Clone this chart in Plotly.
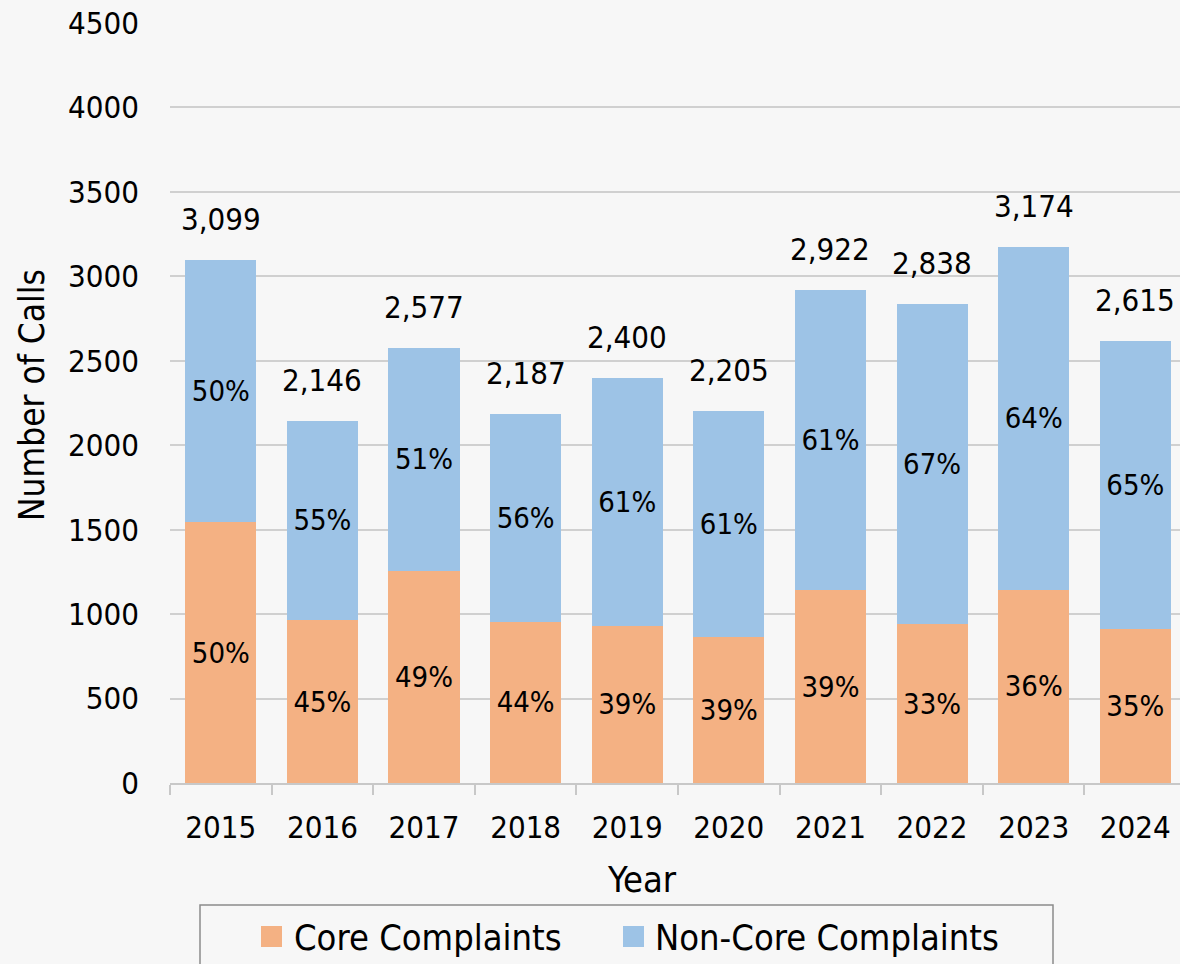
import plotly.graph_objects as go

years = ["2015", "2016", "2017", "2018", "2019", "2020", "2021", "2022", "2023", "2024"]
totals = [3099, 2146, 2577, 2187, 2400, 2205, 2922, 2838, 3174, 2615]
core = [1545, 965, 1258, 955, 932, 865, 1140, 940, 1143, 910]
core_pct = ["50%", "45%", "49%", "44%", "39%", "39%", "39%", "33%", "36%", "35%"]
noncore_pct = ["50%", "55%", "51%", "56%", "61%", "61%", "61%", "67%", "64%", "65%"]
noncore = [t - c for t, c in zip(totals, core)]
total_labels = [f"{t:,}" for t in totals]

CORE_COLOR = "#F4B183"
NONCORE_COLOR = "#9DC3E6"
FONT = "DejaVu Sans Condensed, Open Sans, sans-serif"
BG = "#F7F7F7"

W, H = 1180, 964
L, R, T, B = 170, 0, 23, 181
PW, PH = W - L - R, H - T - B

def px(x):
    return (x - L) / PW

def py(y):
    return (H - B - y) / PH

fig = go.Figure()
fig.add_trace(go.Bar(
    x=years, y=core, name="Core Complaints", marker=dict(color=CORE_COLOR, line=dict(width=0)),
    text=core_pct, textposition="inside", insidetextanchor="middle", textangle=0,
    textfont=dict(family=FONT, size=29, color="black"), showlegend=False,
))
fig.add_trace(go.Bar(
    x=years, y=noncore, name="Non-Core Complaints", marker=dict(color=NONCORE_COLOR, line=dict(width=0)),
    text=noncore_pct, textposition="inside", insidetextanchor="middle", textangle=0,
    textfont=dict(family=FONT, size=29, color="black"), showlegend=False,
))

annotations = []
for i, (t, lab) in enumerate(zip(totals, total_labels)):
    annotations.append(dict(x=i, y=t, text=lab, showarrow=False, yanchor="bottom",
                            yshift=21, font=dict(family=FONT, size=31, color="black")))

annotations.append(dict(xref="paper", yref="paper", x=px(32), y=py(395), text="Number of Calls",
                        textangle=-90, showarrow=False, xanchor="center", yanchor="middle",
                        font=dict(family=FONT, size=35, color="black")))
annotations.append(dict(xref="paper", yref="paper", x=px(642), y=py(879), text="Year",
                        showarrow=False, xanchor="center", yanchor="middle",
                        font=dict(family=FONT, size=36, color="black")))
annotations.append(dict(xref="paper", yref="paper", x=px(292), y=py(937), text="Core Complaints",
                        showarrow=False, xanchor="left", yanchor="middle",
                        font=dict(family=FONT, size=36, color="black")))
annotations.append(dict(xref="paper", yref="paper", x=px(653), y=py(937), text="Non-Core Complaints",
                        showarrow=False, xanchor="left", yanchor="middle",
                        font=dict(family=FONT, size=36, color="black")))

shapes = [
    dict(type="rect", xref="paper", yref="paper", x0=px(200), x1=px(1053), y0=py(905), y1=py(990),
         line=dict(color="#8C8C8C", width=1.5), fillcolor="rgba(0,0,0,0)"),
    dict(type="rect", xref="paper", yref="paper", x0=px(261), x1=px(282), y0=py(926), y1=py(947),
         line=dict(width=0), fillcolor=CORE_COLOR),
    dict(type="rect", xref="paper", yref="paper", x0=px(623), x1=px(644), y0=py(926), y1=py(947),
         line=dict(width=0), fillcolor=NONCORE_COLOR),
]

fig.update_layout(
    width=W, height=H, barmode="stack", bargap=0.3,
    margin=dict(l=L, r=R, t=T, b=B, autoexpand=False),
    paper_bgcolor=BG, plot_bgcolor=BG,
    font=dict(family=FONT, size=31, color="black"),
    annotations=annotations, shapes=shapes,
    uniformtext=dict(minsize=29, mode="show"),
)
fig.update_xaxes(
    type="category", range=[-0.5, 9.44], tickson="boundaries", ticks="outside", ticklen=10,
    tickcolor="#C8C8C8", tickwidth=1.5, showline=True, linecolor="#C8C8C8", linewidth=1.5,
    showgrid=False, tickfont=dict(family=FONT, size=31, color="black"), ticklabelstandoff=16,
)
fig.update_yaxes(
    range=[0, 4500], dtick=500, showgrid=True, gridcolor="#D0D0D0", gridwidth=1.5,
    zeroline=False, showline=False, ticks="", tickformat="d",
    tickfont=dict(family=FONT, size=31, color="black"), ticklabelstandoff=30,
)

fig.write_html(
    "out.html",
    config={"displayModeBar": False},
    post_script="document.body.style.margin='0';document.body.style.overflow='hidden';document.body.style.background='" + BG + "';",
)
